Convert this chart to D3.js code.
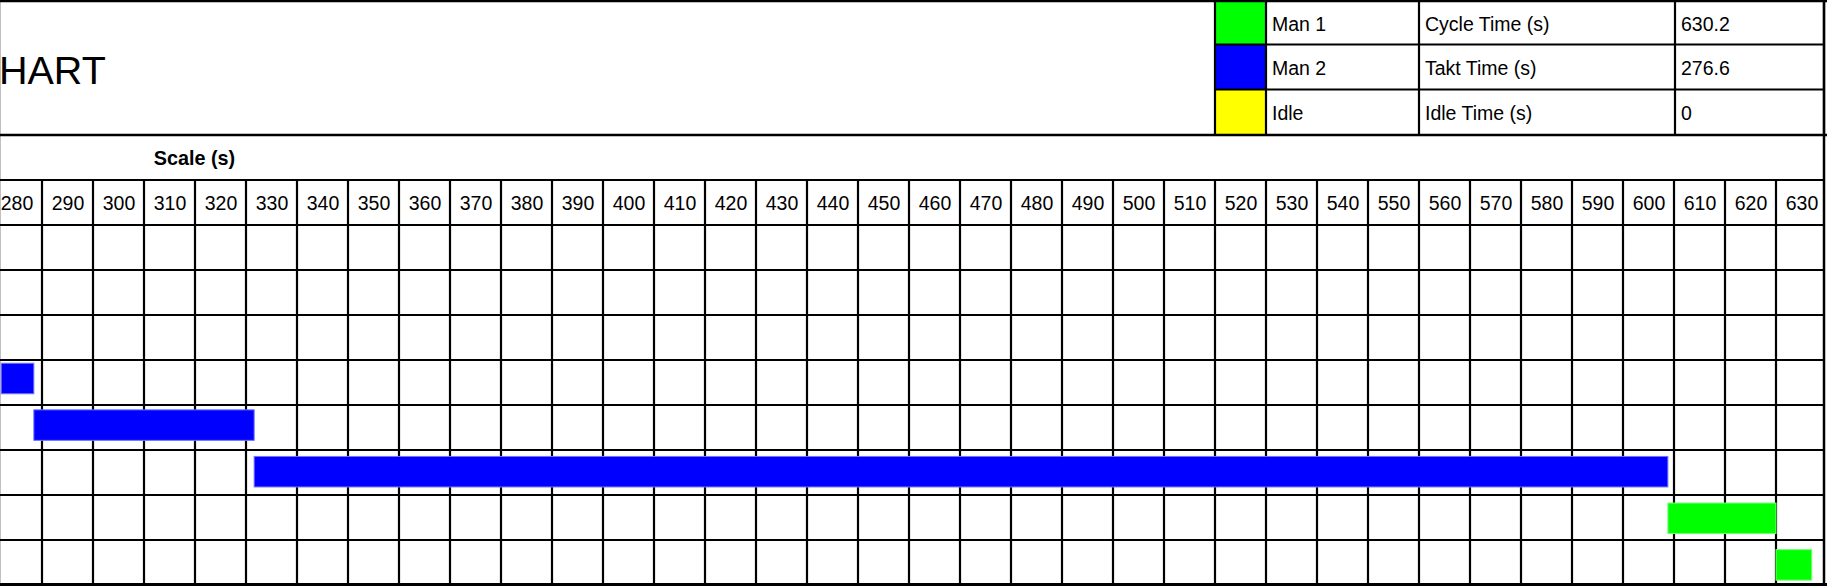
<!DOCTYPE html>
<html>
<head>
<meta charset="utf-8">
<script src="https://cdn.jsdelivr.net/npm/d3@7"></script>
<style>
  html, body { margin: 0; padding: 0; background: #fff; }
  svg { display: block; font-family: "Liberation Sans", Arial, sans-serif; }
</style>
</head>
<body>
<svg id="chart" width="1827" height="586"></svg>
<script>
// ---- data ----
const titleText = "HART";
const scaleTitle = "Scale (s)";
const tickValues = d3.range(280, 640, 10);           // column labels 280..630
const rowIds = [0, 1, 2, 3, 4, 5, 6, 7];             // task rows visible in the view
const barRows   = [3, 4, 5, 6, 7];
const barStarts = [282.0, 288.4, 331.6, 608.8, 630.0];
const barEnds   = [288.4, 331.6, 608.8, 630.0, 637.0];
const barOwners = ["Man 2", "Man 2", "Man 2", "Man 1", "Man 1"];
const legendLabels = ["Man 1", "Man 2", "Idle"];
const legendColors = ["#00ff00", "#0000ff", "#ffff00"];
const statLabels = ["Cycle Time (s)", "Takt Time (s)", "Idle Time (s)"];
const statValues = ["630.2", "276.6", "0"];

// ---- setup ----
const W = 1827, H = 586;
const svg = d3.select("#chart");
const colorOf = d3.scaleOrdinal().domain(legendLabels).range(legendColors);

const x = d3.scaleLinear().domain([280, 640]).range([-9, 1827]);
const colW = x(290) - x(280);
const rowY = d3.scaleBand().domain(rowIds).range([225, 585]);
const barY = d3.scaleBand().domain(rowIds).range([215.4, 588.2]).paddingInner(0.345).paddingOuter(0.1725);

const tickTop = 180, gridBottom = 584.5;
const rightEdge = 1824;

// light left edge
svg.append("line").attr("x1", 0.5).attr("x2", 0.5).attr("y1", 0).attr("y2", H)
  .attr("stroke", "#c0c0c0").attr("stroke-width", 1);

// title
svg.append("text").attr("x", -1).attr("y", 83.5)
  .attr("font-size", 39.5).attr("fill", "#000").text(titleText);

// scale title
svg.append("text").attr("x", 194.5).attr("y", 164.5).attr("text-anchor", "middle")
  .attr("font-size", 19.8).attr("font-weight", "bold").attr("fill", "#000").text(scaleTitle);

// ---- legend table ----
const legCols = [1215, 1266, 1419, 1675, rightEdge];
const legRows = [1, 44.5, 89.5, 134.5];
const leg = svg.append("g");
legendLabels.forEach((lab, i) => {
  leg.append("rect").attr("x", legCols[0]).attr("y", legRows[i])
    .attr("width", legCols[1] - legCols[0]).attr("height", legRows[i + 1] - legRows[i])
    .attr("fill", colorOf(lab));
  const by = legRows[i] + 30;
  leg.append("text").attr("x", legCols[1] + 6).attr("y", by).attr("font-size", 19.5).text(lab);
  leg.append("text").attr("x", legCols[2] + 6).attr("y", by).attr("font-size", 19.5).text(statLabels[i]);
  leg.append("text").attr("x", legCols[3] + 6).attr("y", by).attr("font-size", 19.5).text(statValues[i]);
});
legRows.slice(1, 3).forEach(y => {
  leg.append("line").attr("x1", legCols[0]).attr("x2", rightEdge).attr("y1", y).attr("y2", y)
    .attr("stroke", "#000").attr("stroke-width", 2.2);
});
legCols.forEach(xv => {
  leg.append("line").attr("x1", xv).attr("x2", xv).attr("y1", 0).attr("y2", 135)
    .attr("stroke", "#000").attr("stroke-width", 2.2);
});

// ---- grid ----
const grid = svg.append("g");
tickValues.slice(1).forEach(v => {
  grid.append("line").attr("x1", x(v)).attr("x2", x(v)).attr("y1", tickTop).attr("y2", gridBottom)
    .attr("stroke", "#000").attr("stroke-width", 2.2);
});
grid.append("line").attr("x1", rightEdge).attr("x2", rightEdge).attr("y1", 0).attr("y2", gridBottom)
  .attr("stroke", "#000").attr("stroke-width", 2.5);
rowIds.forEach(r => {
  grid.append("line").attr("x1", 0).attr("x2", rightEdge).attr("y1", rowY(r)).attr("y2", rowY(r))
    .attr("stroke", "#000").attr("stroke-width", 2.2);
});
grid.append("line").attr("x1", 0).attr("x2", rightEdge).attr("y1", tickTop).attr("y2", tickTop)
  .attr("stroke", "#000").attr("stroke-width", 2.2);
grid.append("line").attr("x1", 0).attr("x2", W).attr("y1", 135).attr("y2", 135)
  .attr("stroke", "#000").attr("stroke-width", 2.5);
grid.append("line").attr("x1", 0).attr("x2", W).attr("y1", 1).attr("y2", 1)
  .attr("stroke", "#000").attr("stroke-width", 2.5);
grid.append("line").attr("x1", 0).attr("x2", W).attr("y1", gridBottom).attr("y2", gridBottom)
  .attr("stroke", "#000").attr("stroke-width", 3);

// ---- tick labels through a d3 axis ----
const axis = d3.axisBottom(x).tickValues(tickValues).tickSize(0).tickPadding(0).tickFormat(d3.format("d"));
const axG = svg.append("g").attr("transform", `translate(${colW / 2},${tickTop})`).call(axis);
axG.select(".domain").remove();
axG.selectAll("text").attr("font-size", 19.5).attr("font-family", "Liberation Sans, Arial, sans-serif")
  .attr("fill", "#000").attr("dy", null).attr("y", 30);

// ---- bars ----
const bars = barRows.map((r, i) => ({ row: r, start: barStarts[i], end: barEnds[i], owner: barOwners[i] }));
svg.append("g").selectAll("rect").data(bars).join("rect")
  .attr("x", d => x(d.start))
  .attr("y", d => barY(d.row))
  .attr("width", d => x(d.end) - x(d.start))
  .attr("height", barY.bandwidth())
  .attr("fill", d => colorOf(d.owner))
  .attr("stroke", d => d3.interpolateRgb(colorOf(d.owner), "#fff")(0.45))
  .attr("stroke-width", 1);
</script>
</body>
</html>
